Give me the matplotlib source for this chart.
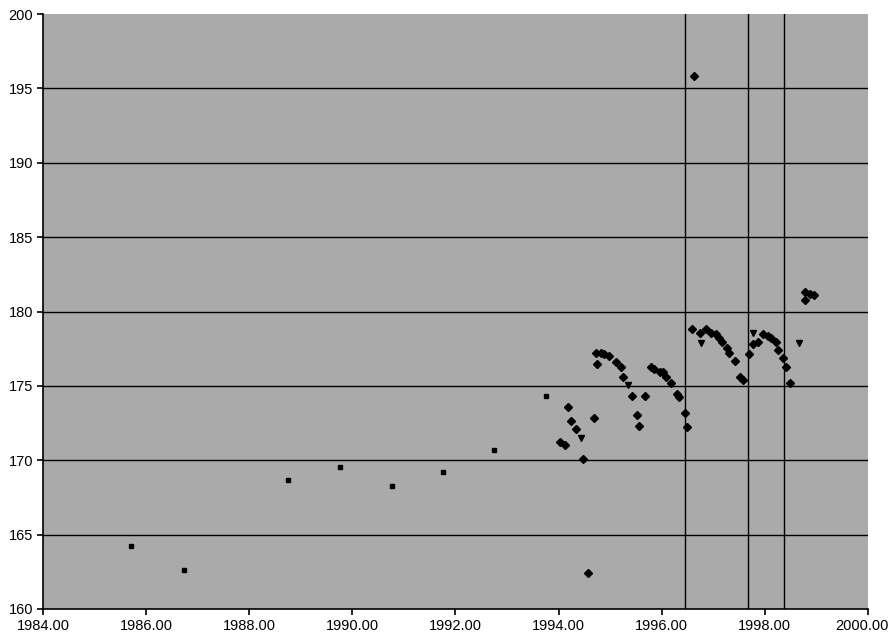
import numpy as np
import matplotlib
matplotlib.use('Agg')
import matplotlib.pyplot as plt
from matplotlib.transforms import ScaledTranslation

plt.rcParams['font.family'] = ['Liberation Sans', 'DejaVu Sans']

# squares (early yearly values)
sq_year = [1985.71, 1986.73, 1988.75, 1989.76, 1990.77, 1991.76, 1992.75, 1993.76]
sq_val = [164.24, 162.62, 168.67, 169.55, 168.27, 169.21, 170.69, 174.32]

# diamonds (main series)
dm_year = [1994.57, 1994.03, 1994.12, 1994.19, 1994.25, 1994.34, 1994.48, 1994.69,
           1994.72, 1994.82, 1994.88, 1994.98, 1994.75, 1995.11, 1995.22, 1995.25,
           1995.43, 1995.68, 1995.53, 1995.57, 1995.79, 1995.85, 1995.97, 1996.03,
           1996.08, 1996.19, 1996.29, 1996.34, 1996.45, 1996.50, 1996.63, 1996.59,
           1996.74, 1996.87, 1996.96, 1997.05, 1997.11, 1997.17, 1997.26, 1997.31,
           1997.43, 1997.52, 1997.58, 1997.70, 1997.78, 1997.86, 1997.97, 1998.06,
           1998.12, 1998.21, 1998.26, 1998.36, 1998.41, 1998.49, 1998.78, 1998.88,
           1998.95, 1998.79]
dm_val = [162.42, 171.21, 171.01, 173.56, 172.66, 172.08, 170.08, 172.82,
          177.21, 177.19, 177.14, 177.01, 176.46, 176.63, 176.29, 175.60,
          174.32, 174.29, 173.03, 172.30, 176.29, 176.13, 175.93, 175.91,
          175.63, 175.21, 174.47, 174.27, 173.20, 172.26, 195.83, 178.82,
          178.53, 178.82, 178.53, 178.47, 178.24, 177.93, 177.53, 177.21,
          176.67, 175.58, 175.39, 177.12, 177.79, 177.93, 178.47, 178.37,
          178.20, 177.97, 177.38, 176.85, 176.30, 175.21, 181.33, 181.18,
          181.11, 180.77]

# small triangles
tr_year = [1994.43, 1995.35, 1996.76, 1997.78, 1998.67]
tr_val = [171.48, 175.06, 177.86, 178.53, 177.86]

# vertical reference lines
vlines = [1996.46, 1997.68, 1998.37]

fig = plt.figure(figsize=(8.91, 6.38), dpi=100)
ax = fig.add_axes([0.0483, 0.0455, 0.9257, 0.9325])
ax.set_facecolor('#aaaaaa')

for y in range(165, 200, 5):
    ax.axhline(y, color='black', lw=1.0, zorder=1)
for x in vlines:
    ax.axvline(x, color='black', lw=1.0, zorder=1)

ax.plot(sq_year, sq_val, 's', color='black', markersize=3.5, zorder=3)
ax.plot(dm_year, dm_val, 'D', color='black', markersize=4.5, zorder=3)
ax.plot(tr_year, tr_val, 'v', color='black', markersize=4, zorder=3)

ax.set_xlim(1984, 2000)
ax.set_ylim(160, 200)
ax.set_xticks(np.arange(1984, 2001, 2))
ax.set_xticklabels(['%.2f' % v for v in np.arange(1984, 2001, 2)])
ax.set_yticks(np.arange(160, 201, 5))

for s in ['top', 'right']:
    ax.spines[s].set_visible(False)
for s in ['left', 'bottom']:
    ax.spines[s].set_linewidth(1.2)
ax.tick_params(direction='out', length=4, width=1.2, labelsize=10.5, pad=3)

# keep the last label inside the figure, like the original
last = ax.get_xticklabels()[-1]
last.set_horizontalalignment('right')
last.set_transform(last.get_transform() + ScaledTranslation(0.21, 0, fig.dpi_scale_trans))

fig.savefig('out.png', dpi=100)
